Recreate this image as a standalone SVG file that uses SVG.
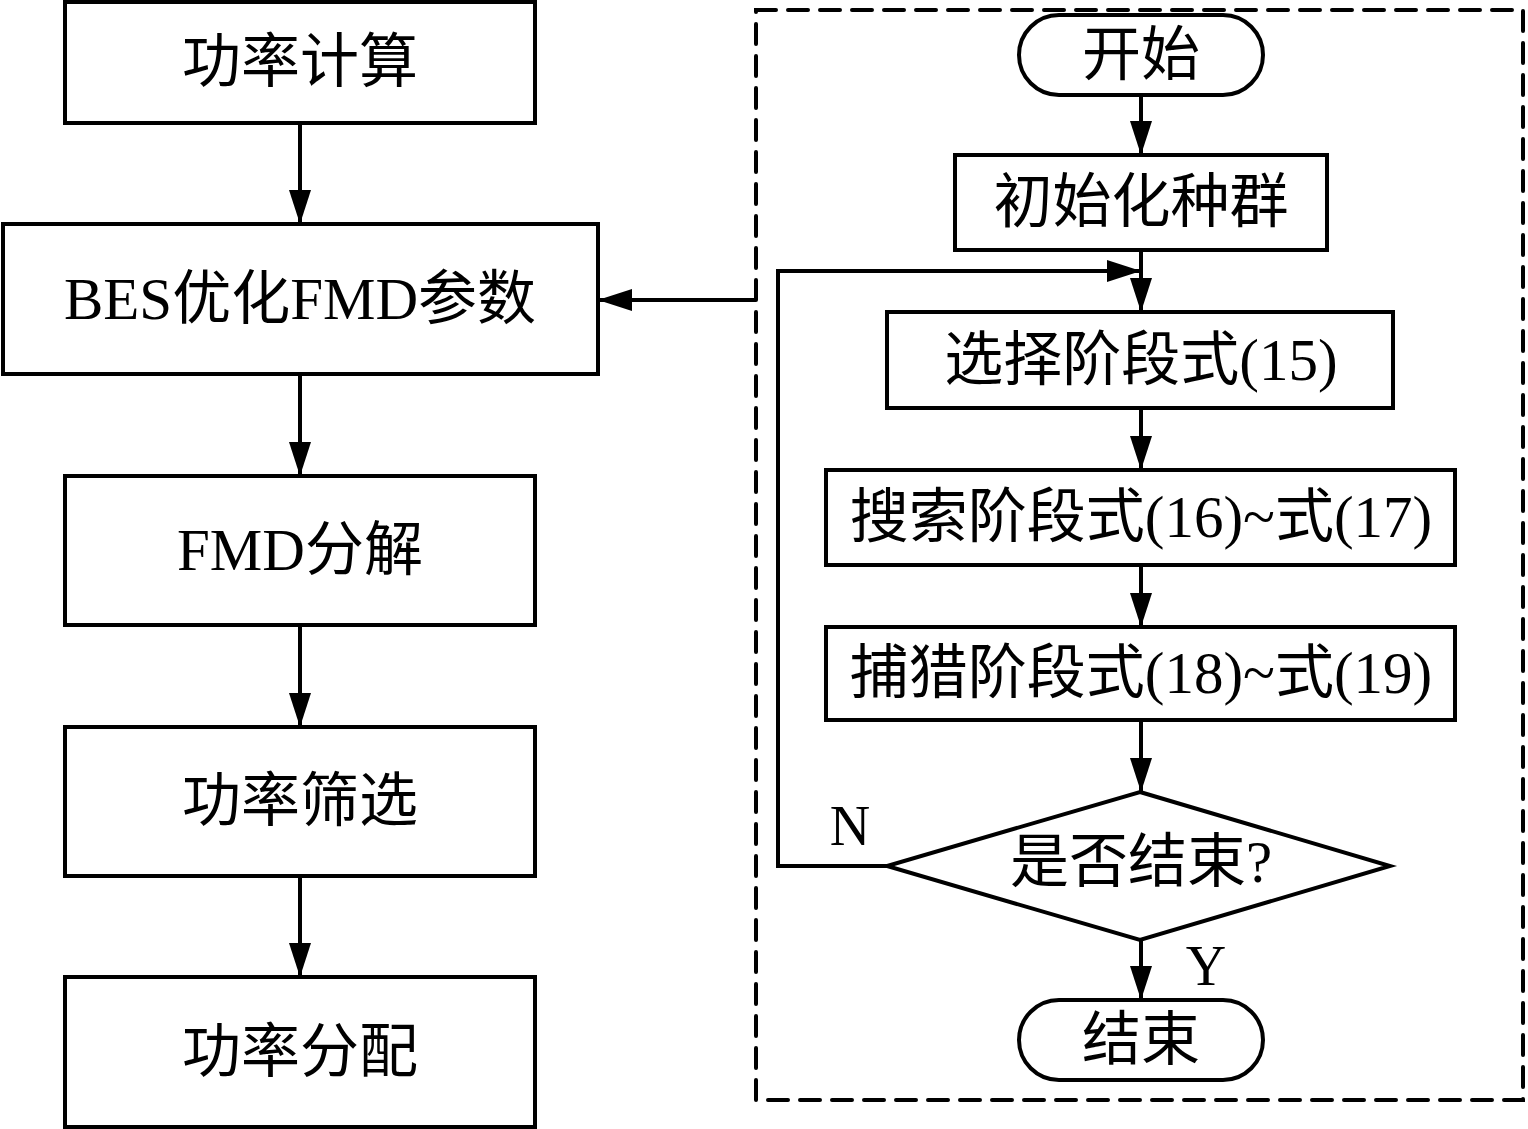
<svg xmlns="http://www.w3.org/2000/svg" width="1528" height="1129" viewBox="0 0 1528 1129">
<style>
.box{fill:#fff;stroke:#000;stroke-width:4}
.t{font-family:"Liberation Serif","Noto Sans CJK SC",serif;font-size:59px;text-anchor:middle;fill:#000}
.c{fill:none;stroke:#000;stroke-width:4}
</style>
<defs>
<marker id="ah" viewBox="0 0 34 22" markerWidth="34" markerHeight="22" refX="34" refY="11" markerUnits="userSpaceOnUse" orient="auto">
<path d="M0,0 L34,11 L0,22 z" fill="#000"/>
</marker>
</defs>
<rect x="756" y="10" width="767" height="1090" fill="none" stroke="#000" stroke-width="4" stroke-dasharray="20 12" stroke-linecap="round"/>
<g id="n1"><rect class="box" x="65" y="2" width="470" height="121"/><text class="t" x="300" y="82">功率计算</text></g>
<g id="n2"><rect class="box" x="3" y="224" width="595" height="150"/><text class="t" x="300" y="319">BES优化FMD参数</text></g>
<g id="n3"><rect class="box" x="65" y="476" width="470" height="149"/><text class="t" x="300" y="570">FMD分解</text></g>
<g id="n4"><rect class="box" x="65" y="727" width="470" height="149"/><text class="t" x="300" y="821">功率筛选</text></g>
<g id="n5"><rect class="box" x="65" y="977" width="470" height="150"/><text class="t" x="300" y="1072">功率分配</text></g>
<g id="r1"><rect class="box" x="1019" y="15" width="244" height="80" rx="40" ry="40"/><text class="t" x="1141" y="75">开始</text></g>
<g id="r2"><rect class="box" x="955" y="155" width="372" height="95"/><text class="t" x="1141" y="222">初始化种群</text></g>
<g id="r3"><rect class="box" x="887" y="312" width="506" height="96"/><text class="t" x="1141" y="380">选择阶段式(15)</text></g>
<g id="r4"><rect class="box" x="826" y="470" width="629" height="95"/><text class="t" x="1141" y="537">搜索阶段式(16)~式(17)</text></g>
<g id="r5"><rect class="box" x="826" y="627" width="629" height="93"/><text class="t" x="1141" y="693">捕猎阶段式(18)~式(19)</text></g>
<g id="r6"><path class="box" d="M1140,792 L1390,866 L1140,940 L887,866 z"/><text class="t" x="1141" y="882">是否结束?</text></g>
<g id="r7"><rect class="box" x="1019" y="1000" width="244" height="80" rx="40" ry="40"/><text class="t" x="1141" y="1060">结束</text></g>
<g id="connectors">
<line class="c" x1="300" y1="123" x2="300" y2="224" marker-end="url(#ah)"/>
<line class="c" x1="300" y1="374" x2="300" y2="476" marker-end="url(#ah)"/>
<line class="c" x1="300" y1="625" x2="300" y2="727" marker-end="url(#ah)"/>
<line class="c" x1="300" y1="876" x2="300" y2="977" marker-end="url(#ah)"/>
<line class="c" x1="756" y1="300" x2="598" y2="300" marker-end="url(#ah)"/>
<line class="c" x1="1141" y1="95" x2="1141" y2="155" marker-end="url(#ah)"/>
<line class="c" x1="1141" y1="250" x2="1141" y2="312" marker-end="url(#ah)"/>
<line class="c" x1="1141" y1="408" x2="1141" y2="470" marker-end="url(#ah)"/>
<line class="c" x1="1141" y1="565" x2="1141" y2="627" marker-end="url(#ah)"/>
<line class="c" x1="1141" y1="720" x2="1141" y2="792" marker-end="url(#ah)"/>
<line class="c" x1="1141" y1="940" x2="1141" y2="1000" marker-end="url(#ah)"/>
<polyline class="c" points="887,866 778,866 778,271 1141,271" marker-end="url(#ah)"/>
<text class="t" x="850" y="845" style="font-size:56px">N</text>
<text class="t" x="1206" y="985" style="font-size:56px">Y</text>
</g>
</svg>
